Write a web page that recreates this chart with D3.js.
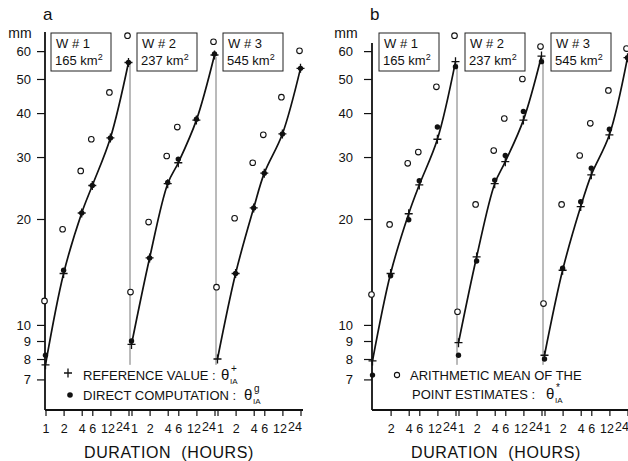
<!DOCTYPE html>
<html><head><meta charset="utf-8">
<script src="https://cdn.jsdelivr.net/npm/d3@7"></script>
<style>
body{margin:0;background:#fff}
svg{display:block}
text{font-family:"Liberation Sans",Arial,sans-serif;fill:#111}
</style>
</head><body>
<svg id="c" width="628" height="461"></svg>
<script>
// ---------- data ----------
const durations = [1, 2, 4, 6, 12, 24];           // hours
const basins = ["W # 1", "W # 2", "W # 3"];
const areas = ["165", "237", "545"];               // km²
const yTickValues = [7, 8, 9, 10, 20, 30, 40, 50, 60];
const xTickLabels = ["1", "2", "4", "6", "12", "24"];

// panel a
const refA = [[7.7, 14.0, 20.8, 24.9, 34.0, 55.7],
              [8.8, 15.5, 25.2, 28.9, 38.2, 58.5],
              [8.0, 14.0, 21.5, 27.0, 34.9, 53.6]];
const directA = [[8.2, 14.3, 20.8, 24.9, 34.0, 55.7],
                 [9.0, 15.5, 25.4, 29.6, 38.4, 58.9],
                 [null, 14.0, 21.5, 27.0, 34.9, 53.6]];
const meanA = [[11.7, 18.7, 27.4, 33.7, 45.8, 66.4],
               [12.4, 19.6, 30.2, 36.5, null, 63.8],
               [12.8, 20.1, 28.9, 34.7, 44.4, 60.1]];
// panel b
const refB = [[7.9, 14.0, 20.7, 25.0, 33.7, 56.0],
              [8.9, 15.6, 25.2, 29.1, 38.2, 58.1],
              [8.2, 14.3, 21.7, 26.7, 34.7, 57.5]];
const directB = [[7.2, 13.8, 19.9, 25.7, 36.5, 54.2],
                 [8.2, 15.2, 25.8, 30.3, 40.4, 56.0],
                 [8.0, 14.5, 22.4, 27.9, 36.0, 57.5]];
const meanB = [[12.2, 19.3, 28.8, 31.0, 47.5, 66.4],
               [10.9, 22.0, 31.3, 38.6, 50.0, 61.8],
               [11.5, 22.0, 30.3, 37.4, 46.4, 61.0]];

// ---------- layout ----------
const svg = d3.select("#c");
const yTop = 32, yBot = 410;
const y = d3.scaleLog().domain([5.73, 68]).range([yBot, yTop]);
const subW = 86;
const FONT = "Liberation Sans, Arial, sans-serif";

function plusPath(g, cx, cy) {
  g.append("path").attr("d", `M${cx-4},${cy}H${cx+4}M${cx},${cy-4.5}V${cy+4.5}`)
    .attr("stroke", "#111").attr("stroke-width", 1.3).attr("fill", "none");
}

function drawPanel(cfg) {
  const g = svg.append("g");
  const x0 = cfg.x0;
  const subScales = basins.map((b, i) =>
    d3.scaleLog().domain([1, 24]).range([x0 + i*subW + 0.5, x0 + (i+1)*subW - 2.5]));

  g.append("text").attr("x", x0 - 2).attr("y", 20).attr("font-size", 17).text(cfg.label);
  g.append("text").attr("x", cfg.mmX).attr("y", 38).attr("text-anchor", "middle")
    .attr("font-size", 14).text("mm");

  // y axis
  const yAxis = d3.axisLeft(y).tickValues(yTickValues).tickFormat(d3.format("d"))
    .tickSize(8).tickPadding(cfg.tickPad);
  const ya = g.append("g").attr("transform", `translate(${x0},0)`).call(yAxis);
  ya.select(".domain").remove();
  ya.selectAll("line").attr("stroke", "#111").attr("stroke-width", 1.2);
  ya.selectAll("text").attr("font-size", 13).attr("font-family", FONT).attr("fill", "#111");
  g.append("line").attr("x1", x0).attr("x2", x0).attr("y1", cfg.axisTop).attr("y2", yBot)
    .attr("stroke", "#111").attr("stroke-width", 1.8);

  // x axis
  g.append("line").attr("x1", x0).attr("x2", x0 + 3*subW).attr("y1", yBot).attr("y2", yBot)
    .attr("stroke", "#111").attr("stroke-width", 2);
  subScales.forEach((xs, i) => {
    const ax = d3.axisBottom(xs).tickValues(durations).tickSize(6)
      .tickFormat((d, k) => (cfg.skipFirst && i === 0 && k === 0) ? "" : xTickLabels[k]);
    const a = g.append("g").attr("transform", `translate(0,${yBot})`).call(ax);
    a.select(".domain").remove();
    a.selectAll("line").attr("stroke", "#111").attr("stroke-width", 1.2);
    a.selectAll("line").filter(d => cfg.skipFirst && i === 0 && d === 1).remove();
    a.selectAll("text").attr("font-size", 12.5).attr("font-family", FONT)
      .attr("fill", "#111").attr("dy", d => d === 24 ? "0.95em" : "1.1em")
      .attr("text-anchor", d => d === 24 ? "end" : (d === 1 && i > 0 ? "start" : "middle"))
      .attr("dx", d => d === 24 ? 1 : (d === 1 && i > 0 ? -1 : (d === 12 ? -3 : 0)));
  });
  g.append("text").attr("x", x0 + 124).attr("y", 458).attr("text-anchor", "middle")
    .attr("font-size", 16).attr("letter-spacing", 0.6).attr("style", "white-space:pre")
    .text("DURATION  (HOURS)");

  // separators between basins
  [0, 1].forEach(i => {
    const sx = x0 + (i+1)*subW - 1;
    g.append("line").attr("x1", sx).attr("x2", sx)
      .attr("y1", y(cfg.ref[i][5]) + 2).attr("y2", y(7.7))
      .attr("stroke", "#777").attr("stroke-width", 1);
  });

  // basin boxes
  subScales.forEach((xs, i) => {
    const bx = x0 + i*subW + cfg.boxOff;
    g.append("rect").attr("x", bx).attr("y", 33).attr("width", 60).attr("height", 38)
      .attr("fill", "#fff").attr("stroke", "#222").attr("stroke-width", 1);
    g.append("text").attr("x", bx + 5).attr("y", 48).attr("font-size", 13).text(basins[i]);
    const t = g.append("text").attr("x", bx + 4).attr("y", 65).attr("font-size", 13);
    t.append("tspan").text(areas[i] + "  km");
    t.append("tspan").attr("font-size", 9).attr("dy", -5).text("2");
  });

  // series
  subScales.forEach((xs, i) => {
    const pts = durations.map((d, k) => ({d, v: cfg.ref[i][k]}));
    g.append("path").datum(pts)
      .attr("d", d3.line().x(p => xs(p.d)).y(p => y(p.v)).curve(d3.curveCatmullRom.alpha(0.5)))
      .attr("fill", "none").attr("stroke", "#111").attr("stroke-width", 1.7);
    durations.forEach((d, k) => {
      if (cfg.mean[i][k] != null)
        g.append("circle").attr("cx", xs(d) - 1).attr("cy", y(cfg.mean[i][k])).attr("r", 2.8)
          .attr("fill", "#fff").attr("stroke", "#111").attr("stroke-width", 1.1);
      if (cfg.direct[i][k] != null)
        g.append("circle").attr("cx", xs(d)).attr("cy", y(cfg.direct[i][k])).attr("r", 2.7)
          .attr("fill", "#111");
      plusPath(g, xs(d), y(cfg.ref[i][k]));
    });
  });

  cfg.legend(g);
}

function theta(g, x, yb, sup, sub) {
  g.append("text").attr("x", x).attr("y", yb).attr("font-size", 15).text("θ");
  g.append("text").attr("x", x + 10).attr("y", yb - 8).attr("font-size", 10).text(sup);
  g.append("text").attr("x", x + 9).attr("y", yb + 4).attr("font-size", 8).text(sub);
}

drawPanel({
  label: "a", x0: 45, mmX: 20, tickPad: 6, axisTop: 32, boxOff: 6, skipFirst: false,
  ref: refA, direct: directA, mean: meanA,
  legend: g => {
    plusPath(g, 68, 373);
    g.append("text").attr("x", 83).attr("y", 380).attr("font-size", 13).text("REFERENCE VALUE  :");
    theta(g, 221, 380, "+", "IA");
    g.append("circle").attr("cx", 70).attr("cy", 395).attr("r", 2.8).attr("fill", "#111");
    g.append("text").attr("x", 83).attr("y", 400).attr("font-size", 13).text("DIRECT COMPUTATION  :");
    theta(g, 244, 400, "g", "IA");
  }
});
drawPanel({
  label: "b", x0: 372, mmX: 346, tickPad: 11, axisTop: 43, boxOff: 7, skipFirst: true,
  ref: refB, direct: directB, mean: meanB,
  legend: g => {
    g.append("circle").attr("cx", 397).attr("cy", 375).attr("r", 2.6)
      .attr("fill", "#fff").attr("stroke", "#111").attr("stroke-width", 1.1);
    g.append("text").attr("x", 410).attr("y", 380).attr("font-size", 13).text("ARITHMETIC MEAN OF THE");
    g.append("text").attr("x", 412).attr("y", 399).attr("font-size", 13).text("POINT ESTIMATES  :");
    theta(g, 546, 399, "*", "IA");
  }
});
</script>
</body></html>
